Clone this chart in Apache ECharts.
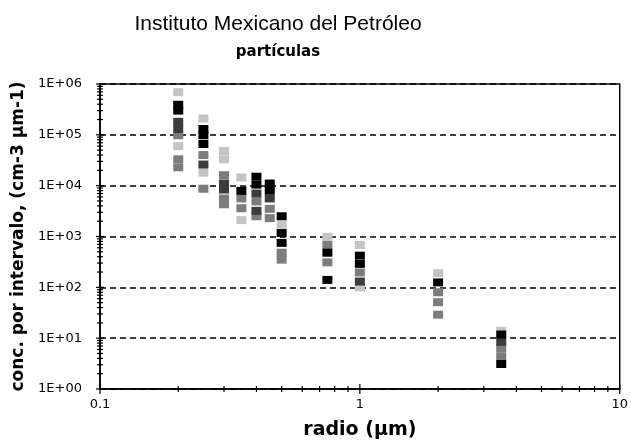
<!DOCTYPE html>
<html>
<head>
<meta charset="utf-8">
<script src="https://cdn.jsdelivr.net/npm/echarts@6/dist/echarts.min.js"></script>
<style>html,body{margin:0;padding:0;background:#fff;}#c{width:631px;height:445px;}</style>
</head>
<body>
<div id="c"></div>
<script>
// Radii (µm) of each size interval
const radios = [0.2, 0.25, 0.3, 0.35, 0.4, 0.45, 0.5, 0.75, 1, 2, 3.5];
// Concentrations (cm-3 µm-1) per radius, grouped by marker shade
const negro = [[3.9e5, 3.0e5], [1.3e5, 9.8e4, 6.6e4], [], [7.9e3], [1.5e4, 1.05e4], [1.1e4, 8e3], [2.5e3, 1.17e3, 7.5e2], [4.8e2, 1.4e2], [4.2e2, 2.9e2], [1.25e2], [11.8, 3.1]];
const grisOscuro = [[1.8e5, 1.3e5], [2.6e4], [1.1e4, 8.4e3], [], [7e3, 3.2e3], [5.6e3], [], [], [1.3e2], [], [8.5]];
const grisMedio = [[9.8e4, 3.3e4, 2.3e4], [4e4, 8.7e3], [1.6e4, 5.6e3, 4.3e3], [5.6e3, 3.6e3], [4.9e3, 2.5e3], [3.5e3, 2.3e3], [4.8e2, 3.5e2], [6.8e2, 3.1e2], [1.96e2], [8e1, 5.1e1, 2.9e1], [6.3, 4.4]];
const grisClaro = [[6.9e5, 6e4], [2.1e5, 1.8e4], [4.8e4, 3.3e4], [1.45e4, 2.1e3], [], [], [1.7e3], [9.8e2], [6.8e2, 1e2], [1.9e2], [14]];
// Axis tick labels
const yTickLabels = ['1E+00', '1E+01', '1E+02', '1E+03', '1E+04', '1E+05', '1E+06'];
const xTickLabels = ['0.1', '1', '10'];

function toPoints(groups) {
  const out = [];
  groups.forEach((vals, i) => vals.forEach(v => out.push([radios[i], v])));
  return out;
}

const yMinor = [];
for (let k = 0; k < 6; k++) for (let m = 1; m <= 9; m++) yMinor.push([0.1, m * Math.pow(10, k), m === 1 ? 1 : 0]);
yMinor.push([0.1, 1e6, 1]);
const xMinor = [];
for (let k = -1; k < 1; k++) for (let m = 1; m <= 9; m++) xMinor.push([m * Math.pow(10, k), 1, m === 1 ? 1 : 0]);
xMinor.push([10, 1, 1]);

const chart = echarts.init(document.getElementById('c'), null, {renderer: 'canvas'});
const sym = {type: 'scatter', symbol: 'rect', symbolSize: [10, 8], z: 3};
chart.setOption({
  animation: false,
  backgroundColor: '#fff',
  title: [
    {text: 'Instituto Mexicano del Petróleo', left: 273, top: 9, textAlign: 'center',
     textStyle: {fontFamily: 'Liberation Sans', fontSize: 21, fontWeight: 'normal', color: '#000'}},
    {text: 'partículas', left: 273, top: 40, textAlign: 'center',
     textStyle: {fontFamily: 'DejaVu Sans', fontSize: 15, fontWeight: 'bold', color: '#000'}}
  ],
  grid: {left: 100, right: 9, top: 84, bottom: 52, show: true, borderColor: '#000', borderWidth: 1.5, containLabel: false},
  xAxis: {
    type: 'log', logBase: 10, min: 0.1, max: 10,
    name: 'radio (µm)', nameLocation: 'middle', nameGap: 32,
    nameTextStyle: {fontFamily: 'DejaVu Sans', fontSize: 19, fontWeight: 'bold', color: '#000'},
    axisLine: {lineStyle: {color: '#000', width: 1.5}},
    axisTick: {show: false},
    splitLine: {show: false},
    axisLabel: {fontFamily: 'DejaVu Sans', fontSize: 13, color: '#000', margin: 9,
      formatter: v => { const i = Math.round(Math.log10(v)) + 1; return xTickLabels[i] !== undefined ? xTickLabels[i] : ''; }}
  },
  yAxis: {
    type: 'log', logBase: 10, min: 1, max: 1e6, splitNumber: 6,
    name: 'conc. por intervalo, (cm-3 µm-1)', nameLocation: 'middle', nameGap: 73,
    nameTextStyle: {fontFamily: 'DejaVu Sans', fontSize: 17, fontWeight: 'bold', color: '#000'},
    axisLine: {lineStyle: {color: '#000', width: 1.5}},
    axisTick: {show: false},
    splitLine: {show: true, lineStyle: {color: '#000', type: [6, 4], width: 1.5}},
    axisLabel: {fontFamily: 'DejaVu Sans', fontSize: 13, color: '#000', margin: 18,
      formatter: v => { const i = Math.round(Math.log10(v)); return yTickLabels[i] !== undefined ? yTickLabels[i] : ''; }}
  },
  series: [
    Object.assign({}, sym, {name: 'gris claro', data: toPoints(grisClaro), itemStyle: {color: '#c4c4c4', opacity: 1}}),
    Object.assign({}, sym, {name: 'gris medio', data: toPoints(grisMedio), itemStyle: {color: '#7c7c7c', opacity: 1}}),
    Object.assign({}, sym, {name: 'gris oscuro', data: toPoints(grisOscuro), itemStyle: {color: '#3c3c3c', opacity: 1}}),
    Object.assign({}, sym, {name: 'negro', data: toPoints(negro), itemStyle: {color: '#000', opacity: 1}}),
    {type: 'custom', clip: false, silent: true, z: 5, data: yMinor,
     renderItem: (params, api) => {
       const p = api.coord([api.value(0), api.value(1)]);
       const h = api.value(2) ? 4 : 3;
       return {type: 'line', shape: {x1: p[0] - h, y1: p[1], x2: p[0] + h, y2: p[1]}, style: {stroke: '#000', lineWidth: 1.2}};
     }},
    {type: 'custom', clip: false, silent: true, z: 5, data: xMinor,
     renderItem: (params, api) => {
       const p = api.coord([api.value(0), api.value(1)]);
       const h = api.value(2) ? 5 : 3;
       return {type: 'line', shape: {x1: p[0], y1: p[1] - h, x2: p[0], y2: p[1] + h}, style: {stroke: '#000', lineWidth: 1.2}};
     }}
  ]
});
</script>
</body>
</html>
